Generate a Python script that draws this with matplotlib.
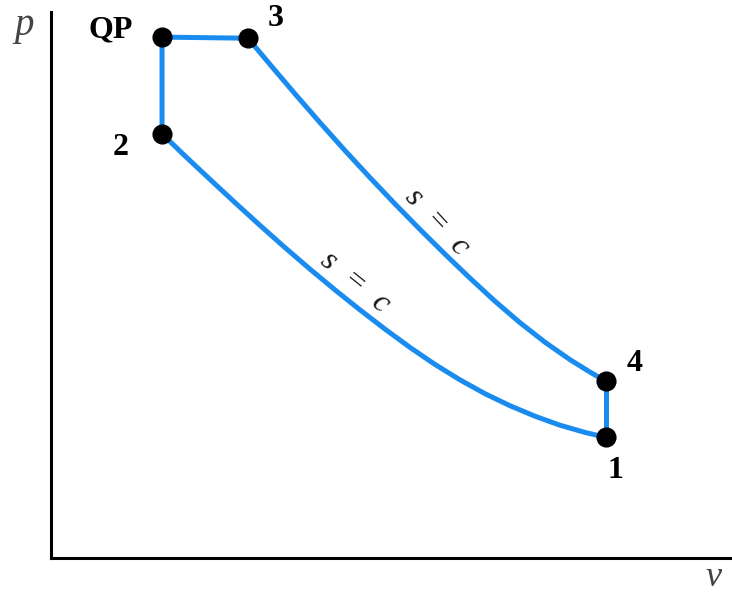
import matplotlib
matplotlib.use('Agg')
import matplotlib.pyplot as plt

# state points of the cycle (v, p) in arbitrary units
v_QP, p_QP = 1.635, 9.54
v_3, p_3 = 2.90, 9.52
v_2, p_2 = 1.635, 7.77
v_4, p_4 = 8.17, 3.24
v_1, p_1 = 8.17, 2.21

# isentropic expansion 3 -> 4
v_34 = [2.901, 3.225, 3.594, 3.962, 4.330, 4.698, 5.066, 5.434,
        5.803, 6.171, 6.539, 6.907, 7.275, 7.644, 7.938, 8.17]
p_34 = [9.52, 9.040, 8.500, 7.974, 7.462, 6.967, 6.485, 6.018,
        5.564, 5.125, 4.703, 4.310, 3.952, 3.632, 3.405, 3.24]

# isentropic compression 1 -> 2 (listed from 2 to 1)
v_12 = [1.635, 1.973, 2.342, 2.710, 3.078, 3.446, 3.814, 4.183, 4.551, 4.919,
        5.287, 5.655, 6.024, 6.392, 6.760, 7.128, 7.496, 7.865, 8.17]
p_12 = [7.77, 7.364, 6.934, 6.509, 6.092, 5.685, 5.291, 4.910, 4.544, 4.192,
        3.857, 3.545, 3.262, 3.009, 2.789, 2.597, 2.432, 2.300, 2.21]

labels = ['QP', '3', '2', '4', '1']
label_v = [0.88, 3.31, 1.02, 8.59, 8.31]
label_p = [9.67, 9.89, 7.51, 3.57, 1.61]

blue = '#1A8CF0'
serif = 'Liberation Serif'

fig = plt.figure(figsize=(7.32, 5.92), dpi=100)
ax = fig.add_axes([51/732, 34/592, 679/732, 546/592])
ax.set_xlim(0, 10)
ax.set_ylim(0, 10)

lw = 3.6
ax.plot(v_34, p_34, color=blue, lw=lw, solid_joinstyle='round')
ax.plot(v_12, p_12, color=blue, lw=lw, solid_joinstyle='round')
ax.plot([v_2, v_QP, v_3], [p_2, p_QP, p_3], color=blue, lw=lw)
ax.plot([v_4, v_1], [p_4, p_1], color=blue, lw=lw)

ax.plot([v_QP, v_3, v_2, v_4, v_1], [p_QP, p_3, p_2, p_4, p_1],
        'o', color='black', ms=13.5, zorder=5)

for s, x, y in zip(labels, label_v, label_p):
    ax.text(x, y, s, fontsize=23, fontweight='bold', family=serif,
            ha='center', va='center')

# s = c along both isentropes
ax.text(5.68, 6.15, 's  =  c', fontsize=23, style='italic', family=serif,
        color='#1a1a1a', rotation=-47, rotation_mode='anchor',
        ha='center', va='center')
ax.text(4.48, 5.05, 's  =  c', fontsize=23, style='italic', family=serif,
        color='#1a1a1a', rotation=-39, rotation_mode='anchor',
        ha='center', va='center')

for side in ['top', 'right']:
    ax.spines[side].set_visible(False)
for side in ['left', 'bottom']:
    ax.spines[side].set_linewidth(2.2)
    ax.spines[side].set_color('black')
ax.set_xticks([])
ax.set_yticks([])

fig.text(24/732, 1 - 26/592, 'p', fontsize=28, style='italic', family=serif,
         color='#444444', ha='center', va='center')
fig.text(714/732, 1 - 577/592, 'v', fontsize=26, style='italic', family=serif,
         color='#444444', ha='center', va='center')

fig.savefig('out.png', dpi=100)
